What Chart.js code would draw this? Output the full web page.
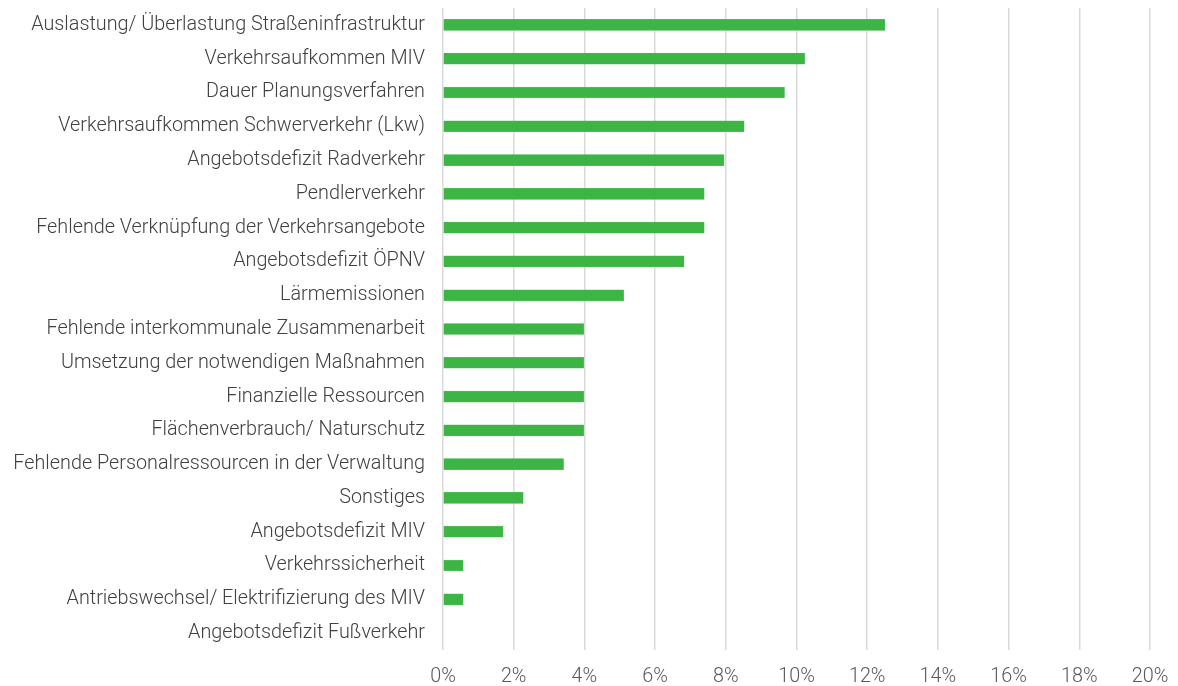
<!DOCTYPE html>
<html>
<head>
<meta charset="utf-8">
<script src="https://cdn.jsdelivr.net/npm/chart.js@4/dist/chart.umd.min.js"></script>
<style>
html,body{margin:0;padding:0;background:#fff;}
#wrap{width:1178px;height:686px;position:relative;}
</style>
</head>
<body>
<div id="wrap"><canvas id="c" width="1178" height="686"></canvas></div>
<script>
const categories = [
  "Auslastung/ Überlastung Straßeninfrastruktur",
  "Verkehrsaufkommen MIV",
  "Dauer Planungsverfahren",
  "Verkehrsaufkommen Schwerverkehr (Lkw)",
  "Angebotsdefizit Radverkehr",
  "Pendlerverkehr",
  "Fehlende Verknüpfung der Verkehrsangebote",
  "Angebotsdefizit ÖPNV",
  "Lärmemissionen",
  "Fehlende interkommunale Zusammenarbeit",
  "Umsetzung der notwendigen Maßnahmen",
  "Finanzielle Ressourcen",
  "Flächenverbrauch/ Naturschutz",
  "Fehlende Personalressourcen in der Verwaltung",
  "Sonstiges",
  "Angebotsdefizit MIV",
  "Verkehrssicherheit",
  "Antriebswechsel/ Elektrifizierung des MIV",
  "Angebotsdefizit Fußverkehr"
];
const shares = [12.5, 10.23, 9.66, 8.52, 7.95, 7.39, 7.39, 6.82, 5.11, 3.98, 3.98, 3.98, 3.98, 3.41, 2.27, 1.70, 0.57, 0.57, 0];
const xTicks = [0, 2, 4, 6, 8, 10, 12, 14, 16, 18, 20];

new Chart(document.getElementById('c'), {
  type: 'bar',
  data: {
    labels: categories,
    datasets: [{
      data: shares,
      backgroundColor: '#3db544',
      borderColor: '#5cc462',
      borderWidth: 0.5,
      barThickness: 11,
      borderSkipped: false
    }]
  },
  options: {
    indexAxis: 'y',
    responsive: false,
    animation: false,
    devicePixelRatio: 1,
    layout: { padding: { top: 8, right: 28, left: 0, bottom: 0 } },
    plugins: { legend: { display: false }, tooltip: { enabled: false } },
    scales: {
      x: {
        min: 0, max: 20,
        afterBuildTicks: (axis) => { axis.ticks = xTicks.map(v => ({ value: v })); },
        grid: { color: '#d9d9d9', lineWidth: 1.5, drawTicks: false },
        border: { display: false },
        ticks: {
          padding: 15,
          color: '#595959',
          font: { family: 'Roboto', weight: 300, size: 19.8 },
          callback: (v) => v + '%'
        },
        afterFit: (axis) => { axis.height = 36; axis.paddingLeft = 0; axis.paddingRight = 0; }
      },
      y: {
        grid: { display: false, drawTicks: false },
        border: { display: false },
        ticks: {
          padding: 18,
          color: '#404040',
          autoSkip: false,
          font: { family: 'Roboto', weight: 300, size: 19.8 }
        },
        afterFit: (axis) => { axis.width = 443; axis.paddingTop = 0; axis.paddingBottom = 0; }
      }
    }
  }
});
</script>
</body>
</html>
